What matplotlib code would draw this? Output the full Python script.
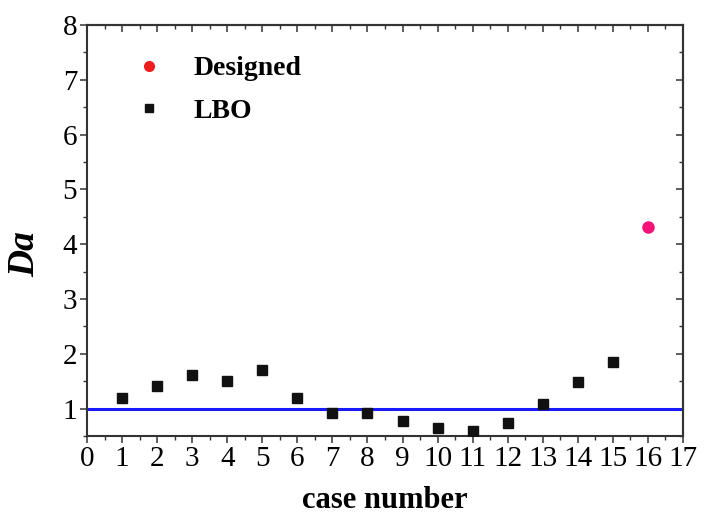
import matplotlib
matplotlib.use('Agg')
import matplotlib.pyplot as plt
from matplotlib.ticker import MultipleLocator
from matplotlib.lines import Line2D

plt.rcParams['font.family'] = ['Liberation Serif', 'DejaVu Serif']

# ---- data ----
cases = [1, 2, 3, 4, 5, 6, 7, 8, 9, 10, 11, 12, 13, 14, 15]
lbo = [1.19, 1.41, 1.62, 1.51, 1.71, 1.19, 0.92, 0.92, 0.77, 0.64, 0.60, 0.745, 1.09, 1.49, 1.855]
designed_case = [16]
designed = [4.32]
reference_level = 1.0
xticks = list(range(0, 18))
yticks = [1, 2, 3, 4, 5, 6, 7, 8]
labels = ['Designed', 'LBO']

W, H = 705, 517
fig = plt.figure(figsize=(W / 100, H / 100), dpi=100)
ax = fig.add_axes([87 / W, 1 - 436 / H, (683 - 87) / W, (436 - 25) / H])

ax.axhline(reference_level, color='#1a1aff', lw=2.2, zorder=1)
ax.plot(cases, lbo, 's', color='#111111', ms=7, zorder=3)
ax.plot(designed_case, designed, 'o', color='#f5137a', ms=8, zorder=3)

ax.set_xlim(0, 17)
ax.set_ylim(0.5, 8)
ax.set_xticks(xticks)
ax.set_yticks(yticks)
ax.xaxis.set_minor_locator(MultipleLocator(0.5))
ax.yaxis.set_minor_locator(MultipleLocator(0.5))

tick_col = '#333333'
ax.tick_params(which='major', direction='out', length=5, width=1.1, color=tick_col,
               labelsize=21, pad=2)
ax.tick_params(which='minor', direction='out', length=3, width=1.0, color=tick_col)
for s in ax.spines.values():
    s.set_linewidth(1.5)
    s.set_color(tick_col)

secx = ax.secondary_xaxis('top')
secx.set_xticks(xticks)
secx.xaxis.set_minor_locator(MultipleLocator(0.5))
secx.tick_params(which='major', direction='in', length=5, width=1.1, color=tick_col, labeltop=False)
secx.tick_params(which='minor', direction='in', length=3, width=1.0, color=tick_col)
secx.spines['top'].set_linewidth(1.5)
secx.spines['top'].set_color(tick_col)

secy = ax.secondary_yaxis('right')
secy.set_yticks(yticks)
secy.yaxis.set_minor_locator(MultipleLocator(0.5))
secy.tick_params(which='major', direction='in', length=5, width=1.1, color=tick_col, labelright=False)
secy.tick_params(which='minor', direction='in', length=3, width=1.0, color=tick_col)
secy.spines['right'].set_linewidth(1.5)
secy.spines['right'].set_color(tick_col)

fig.text(385 / W, 1 - 500 / H, 'case number', fontsize=22, fontweight='bold',
         ha='center', va='center')
fig.text(25 / W, 1 - 254 / H, 'Da', fontsize=27, fontweight='bold', fontstyle='italic',
         rotation=90, ha='center', va='center')

handles = [Line2D([], [], ls='none', marker='o', color='#ee1c1c', ms=7),
           Line2D([], [], ls='none', marker='s', color='#111111', ms=6)]
ax.legend(handles, labels, loc='upper left', bbox_to_anchor=(135 / W, 1 - 56 / H),
          bbox_transform=fig.transFigure, frameon=False, borderpad=0, borderaxespad=0,
          handlelength=1.0, handletextpad=1.1, labelspacing=0.6,
          prop={'family': 'Liberation Serif', 'weight': 'bold', 'size': 20})

fig.savefig('out.png', dpi=100)
